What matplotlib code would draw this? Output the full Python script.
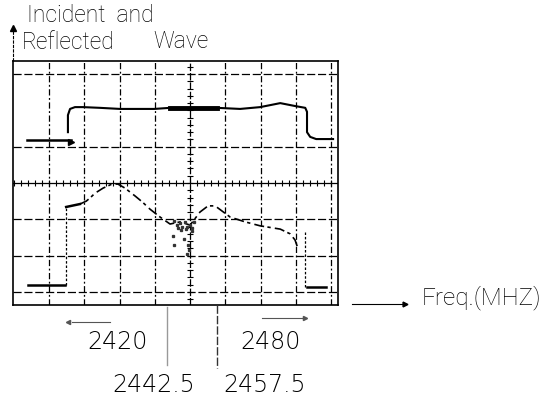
import numpy as np
import matplotlib.pyplot as plt

W, H = 548, 399

# screen grid lines, in divisions
grid_x = [-4, -3, -2, -1, 1, 2, 3, 4]
grid_y = [-3, -2, -1, 1, 3]

# incident wave (upper trace)
inc_x = [-3.47, -3.47, -3.41, -3.27, -3.04, -2.56, -1.99, -1.02, -0.57, 0.0, 0.77,
         1.42, 1.99, 2.56, 2.98, 3.27, 3.32, 3.32, 3.41, 3.58, 4.06]
inc_y = [1.40, 1.87, 2.04, 2.09, 2.09, 2.07, 2.04, 2.04, 2.07, 2.07, 2.07,
         2.04, 2.09, 2.20, 2.12, 2.07, 1.96, 1.40, 1.27, 1.21, 1.21]
inc_bold_x = [-0.57, 0.0, 0.77]
inc_bold_y = [2.07, 2.07, 2.07]
inc_base_x = [-4.63, -3.38]
inc_base_y = [1.18, 1.18]

# reflected wave (lower trace)
ref_x = [-3.52, -3.13, -2.95, -2.84, -2.70, -2.47, -2.22, -2.05, -1.85, -1.56, -1.36,
         -1.14, -0.85, -0.57, -0.28, 0.0, 0.28, 0.51, 0.71, 1.14, 1.56, 1.99, 2.56,
         2.84, 2.98, 3.04]
ref_y = [-0.66, -0.58, -0.50, -0.41, -0.28, -0.14, -0.03, -0.03, -0.14, -0.36, -0.52,
         -0.72, -0.94, -1.13, -1.07, -1.16, -0.80, -0.63, -0.63, -0.94, -1.07, -1.18, -1.27,
         -1.40, -1.57, -1.74]
ref_left_x = [-4.60, -3.55, -3.52, -3.52]
ref_left_y = [-2.81, -2.81, -2.81, -0.66]
ref_right_x = [3.27, 3.27, 3.32, 3.86]
ref_right_y = [-1.35, -2.87, -2.87, -2.87]
noise_x = [-0.45, -0.38, -0.30, -0.22, -0.15, -0.08, 0.0, 0.06, 0.12, -0.35, -0.25, -0.12,
           0.05, -0.18, -0.05, -0.50, -0.45, -0.02, -0.10]
noise_y = [-1.05, -1.15, -1.10, -1.20, -1.08, -1.22, -1.15, -1.25, -1.08, -1.25, -1.30, -1.28,
           -1.32, -1.55, -1.70, -1.45, -1.70, -1.85, -1.95]

freq_labels = ['2420', '2480', '2442.5', '2457.5']


def fx(px):
    return px / W


def fy(py):
    return 1 - py / H


word_font = dict(family='Roboto', weight='light', fontsize=16.5, va='center', ha='left')
num_font = dict(family='DejaVu Sans', weight='light', fontsize=17, va='center', ha='left',
                color='black')

fig = plt.figure(figsize=(W / 100, H / 100), dpi=100)
ax = fig.add_axes([fx(13), fy(305), 325 / W, 244 / H])
ax.set_xlim(-5.03, 4.2)
ax.set_ylim(-3.36, 3.36)
ax.set_xticks([])
ax.set_yticks([])
for s in ax.spines.values():
    s.set_linewidth(1.2)

for gx in grid_x:
    ax.axvline(gx, color='black', lw=0.9, dashes=(5, 2, 1.5, 2))
for gy in grid_y:
    ax.axhline(gy, color='black', lw=0.9, dashes=(6.5, 2.2))

# centre lines with small graduations
ax.axhline(0, color='black', lw=0.9)
ax.axvline(0, color='black', lw=0.9, dashes=(6, 1.5))
minor = np.arange(-5, 4.2, 0.2)
ax.plot(minor, np.zeros_like(minor), ls='none', marker='|', ms=4, mew=0.8, color='black')
minor_y = np.arange(-3.2, 3.3, 0.2)
ax.plot(np.zeros_like(minor_y), minor_y, ls='none', marker='_', ms=5, mew=0.8, color='black')

# traces
ax.plot(inc_x, inc_y, color='black', lw=1.5)
ax.plot(inc_bold_x, inc_bold_y, color='black', lw=3.5)
ax.plot(inc_base_x, inc_base_y, color='black', lw=1.8)
ax.plot([-3.38], [1.14], marker='>', ms=5, color='black')

ax.plot(ref_x[:2], ref_y[:2], color='black', lw=1.8)
ax.plot(ref_x[1:], ref_y[1:], color='black', lw=1.2, dashes=(6, 2, 2, 2.5))
ax.plot(ref_left_x[:2], ref_left_y[:2], color='black', lw=1.8)
ax.plot(ref_left_x[2:], ref_left_y[2:], color='black', lw=0.9, dashes=(2, 1.5))
ax.plot(ref_right_x[:2], ref_right_y[:2], color='black', lw=0.9, dashes=(2, 1.5))
ax.plot(ref_right_x[2:], ref_right_y[2:], color='black', lw=1.8)
ax.plot(noise_x, noise_y, ls='none', marker='s', ms=1.4, color='#333333')

# labels outside the screen
fig.text(fx(27), fy(16), 'Incident  and', **word_font)
fig.text(fx(22), fy(42), 'Reflected', **word_font)
fig.text(fx(153), fy(42), 'Wave', **word_font)
fig.add_artist(plt.Line2D([fx(13), fx(13)], [fy(61), fy(30)], color='black', lw=0.8,
                          dashes=(3, 1)))
fig.add_artist(plt.Line2D([fx(13)], [fy(28)], marker='^', ms=5, color='black'))

fig.add_artist(plt.Line2D([fx(352), fx(403)], [fy(304), fy(304)], color='black', lw=0.8))
fig.add_artist(plt.Line2D([fx(405)], [fy(304)], marker='>', ms=3.5, color='black'))
fig.text(fx(422), fy(298), 'Freq.(MHZ)', **dict(word_font, fontsize=17.5))

fig.text(fx(87), fy(342), freq_labels[0], **num_font)
fig.text(fx(240), fy(342), freq_labels[1], **num_font)
fig.text(fx(112), fy(385), freq_labels[2], **num_font)
fig.text(fx(223), fy(385), freq_labels[3], **num_font)

fig.add_artist(plt.Line2D([fx(167), fx(167)], [fy(307), fy(365)], color='#999999', lw=1.0))
fig.add_artist(plt.Line2D([fx(217), fx(217)], [fy(305), fy(368)], color='#333333', lw=1.0,
                          dashes=(6, 1.5)))
fig.add_artist(plt.Line2D([fx(72), fx(110)], [fy(322), fy(322)], color='#555555', lw=0.8))
fig.add_artist(plt.Line2D([fx(68)], [fy(322)], marker='<', ms=3, color='#555555'))
fig.add_artist(plt.Line2D([fx(262), fx(302)], [fy(318), fy(318)], color='#555555', lw=0.8))
fig.add_artist(plt.Line2D([fx(305)], [fy(318)], marker='>', ms=3, color='#555555'))

fig.savefig('out.png', dpi=100)
